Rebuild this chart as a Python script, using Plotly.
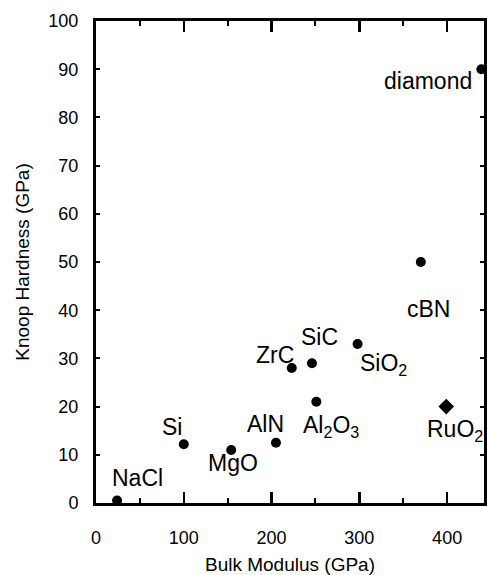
import plotly.graph_objects as go

# ---- data ----
materials = ["NaCl", "Si", "MgO", "AlN", "ZrC", "SiC", "Al<sub>2</sub>O<sub>3</sub>",
             "SiO<sub>2</sub>", "cBN", "diamond"]
bulk_modulus = [24, 100, 154, 205, 223, 246, 251, 298, 370, 439]
knoop_hardness = [0.5, 12.2, 11.0, 12.5, 28.0, 29.0, 21.0, 33.0, 50.0, 90.0]

special_material = ["RuO<sub>2</sub>"]
special_bulk_modulus = [399]
special_hardness = [20.0]

x_ticks = [0, 100, 200, 300, 400]
y_ticks = [0, 10, 20, 30, 40, 50, 60, 70, 80, 90, 100]

# ---- label placement (pixel offsets from each point) ----
label_offsets = {
    "NaCl": (20, 23, "center"),
    "Si": (-12, 17, "center"),
    "MgO": (2, -13, "center"),
    "AlN": (-10, 19, "center"),
    "ZrC": (-17, 13, "center"),
    "SiC": (8, 26, "center"),
    "Al<sub>2</sub>O<sub>3</sub>": (15, -25, "center"),
    "SiO<sub>2</sub>": (26, -21, "center"),
    "cBN": (8, -47, "center"),
    "diamond": (-7, -12, "right"),
    "RuO<sub>2</sub>": (9, -24, "center"),
}

FONT = "Liberation Sans, Arial, Helvetica, sans-serif"

fig = go.Figure()
fig.add_trace(go.Scatter(
    x=bulk_modulus, y=knoop_hardness, mode="markers",
    marker=dict(symbol="circle", size=10, color="black"),
    cliponaxis=False, showlegend=False, hoverinfo="skip",
))
fig.add_trace(go.Scatter(
    x=special_bulk_modulus, y=special_hardness, mode="markers",
    marker=dict(symbol="diamond", size=12, color="black"),
    cliponaxis=False, showlegend=False, hoverinfo="skip",
))

for names, xs, ys in [(materials, bulk_modulus, knoop_hardness),
                      (special_material, special_bulk_modulus, special_hardness)]:
    for n, xv, yv in zip(names, xs, ys):
        dx, dy, anchor = label_offsets[n]
        fig.add_annotation(
            x=xv, y=yv, text=n, showarrow=False,
            xanchor=anchor, yanchor="middle",
            xshift=dx, yshift=dy,
            font=dict(family=FONT, size=23, color="black"),
        )

axis_common = dict(
    showgrid=False, zeroline=False,
    showline=True, linecolor="black", linewidth=3,
    ticks="inside", tickcolor="black",
    mirror="ticks",
    tickfont=dict(family=FONT, size=18, color="black"),
)

fig.update_xaxes(
    range=[0, 442], tickvals=x_ticks, ticklen=11, tickwidth=2.5,
    minor=dict(dtick=50, ticklen=5, tickwidth=2, ticks="inside", tickcolor="black"),
    ticklabelstandoff=16,
    title=dict(text="Bulk Modulus (GPa)", font=dict(family=FONT, size=19, color="black"),
               standoff=14),
    **axis_common,
)
fig.update_yaxes(
    range=[0, 100], tickvals=y_ticks, ticklen=4, tickwidth=2,
    ticklabelstandoff=11,
    title=dict(text="Knoop Hardness (GPa)", font=dict(family=FONT, size=19, color="black"),
               standoff=14),
    **axis_common,
)

fig.update_layout(
    width=487, height=575,
    margin=dict(l=96, r=0, t=21, b=72),
    paper_bgcolor="white", plot_bgcolor="white",
    hovermode=False,
)

fig.write_html("out.html", config={"displayModeBar": False, "staticPlot": True},
               post_script="document.body.style.margin='0';document.body.style.overflow='hidden';")
